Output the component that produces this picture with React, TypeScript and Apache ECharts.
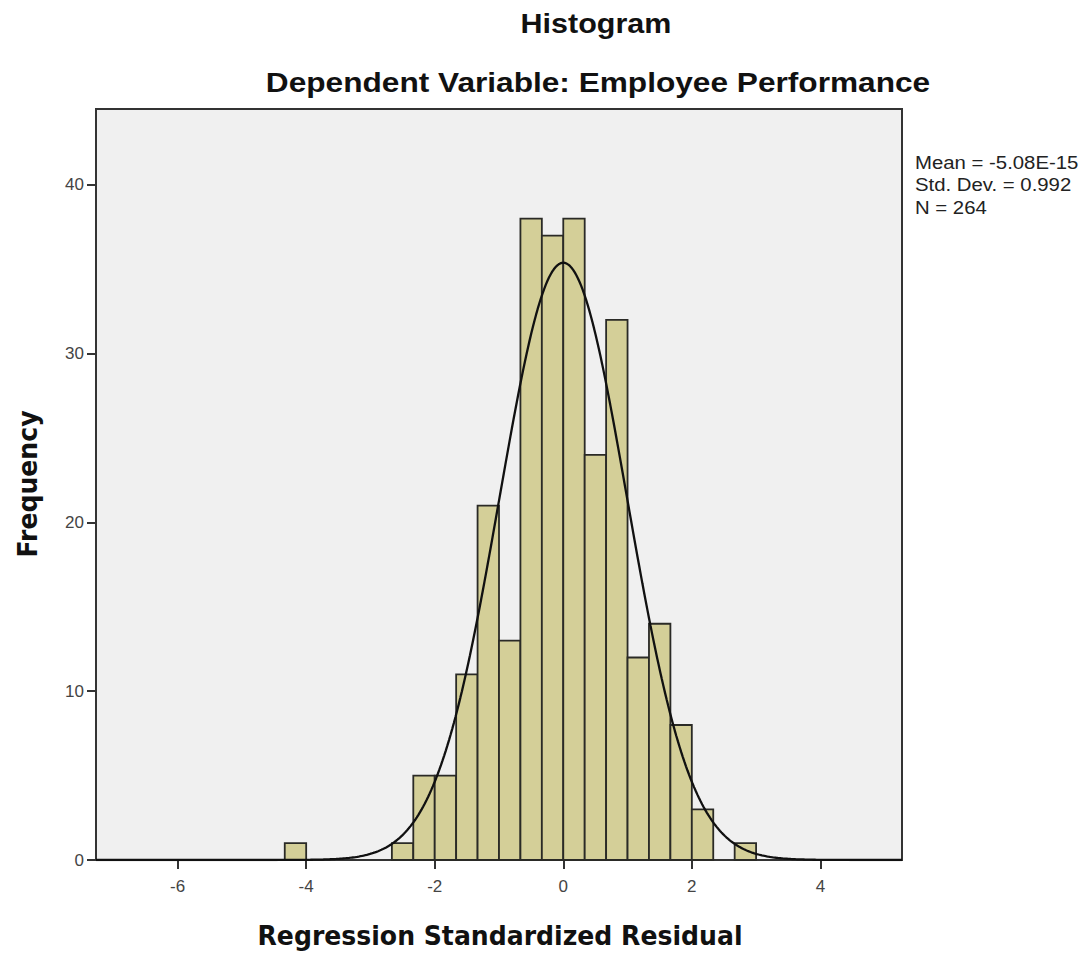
import React, { useEffect, useRef } from "react";
import * as echarts from "echarts";

// Histogram bins (lower edge of each bin, bin width = 1/3)
const binWidth = 1 / 3;
const binStarts = [-13 / 3, -8 / 3, -7 / 3, -2, -5 / 3, -4 / 3, -1, -2 / 3, -1 / 3, 0, 1 / 3, 2 / 3, 1, 4 / 3, 5 / 3, 2, 7 / 3, 8 / 3];
const counts = [1, 1, 5, 5, 11, 21, 13, 38, 37, 38, 24, 32, 12, 14, 8, 3, 0, 1];

// Summary statistics
const meanValue = -5.08e-15;
const stdDev = 0.992;
const nObs = 264;
const statsLines = ["Mean = -5.08E-15", "Std. Dev. = 0.992", "N = 264"];

const xTicks = [-6, -4, -2, 0, 2, 4];
const yTicks = [0, 10, 20, 30, 40];
const xMin = -7.27;
const xMax = 5.27;
const yMax = 44.5;

const titleText = "Histogram";
const subtitleText = "Dependent Variable: Employee Performance";
const xTitle = "Regression Standardized Residual";
const yTitle = "Frequency";

function normalCurve(): number[][] {
  const pts: number[][] = [];
  const scale = nObs * binWidth;
  for (let i = 0; i <= 500; i++) {
    const x = xMin + ((xMax - xMin) * i) / 500;
    const z = (x - meanValue) / stdDev;
    const y = (scale / (stdDev * Math.sqrt(2 * Math.PI))) * Math.exp(-0.5 * z * z);
    pts.push([x, y]);
  }
  return pts;
}

export default function App() {
  const ref = useRef<HTMLDivElement>(null);
  useEffect(() => {
    if (!ref.current) return;
    const chart = echarts.init(ref.current, null, { renderer: "svg" });
    const barData = binStarts.map((s, i) => [s, s + binWidth, counts[i]]);
    const font = "'Liberation Sans', Arial, sans-serif";
    const boldFont = "'DejaVu Sans', 'Liberation Sans', sans-serif";
    chart.setOption({
      animation: false,
      backgroundColor: "#ffffff",
      grid: {
        left: 96,
        top: 109,
        width: 806,
        height: 751,
        show: true,
        backgroundColor: "#f0f0f0",
        borderColor: "#333333",
        borderWidth: 2,
      },
      xAxis: {
        type: "value",
        min: xMin,
        max: xMax,
        splitLine: { show: false },
        axisLine: { show: true, onZero: false, lineStyle: { color: "#333333", width: 2 } },
        axisTick: { show: true, length: 9, customValues: xTicks, lineStyle: { color: "#333333", width: 2 } },
        axisLabel: { customValues: xTicks, color: "#444444", fontSize: 17, fontFamily: font, margin: 18 },
      },
      yAxis: {
        type: "value",
        min: 0,
        max: yMax,
        splitLine: { show: false },
        axisLine: { show: true, onZero: false, lineStyle: { color: "#333333", width: 2 } },
        axisTick: { show: true, length: 9, customValues: yTicks, lineStyle: { color: "#333333", width: 2 } },
        axisLabel: { customValues: yTicks, color: "#444444", fontSize: 17, fontFamily: font, margin: 12 },
      },
      series: [
        {
          type: "custom",
          data: barData,
          renderItem: (params: any, api: any) => {
            const x0 = api.value(0);
            const x1 = api.value(1);
            const c = api.value(2);
            if (c <= 0) return null;
            const p0 = api.coord([x0, c]);
            const p1 = api.coord([x1, 0]);
            return {
              type: "rect",
              shape: { x: p0[0], y: p0[1], width: p1[0] - p0[0], height: p1[1] - p0[1] },
              style: { fill: "#d4cf98", stroke: "#2a2a26", lineWidth: 1.8 },
            };
          },
          encode: { x: [0, 1], y: 2 },
          z: 2,
        },
        {
          type: "line",
          data: normalCurve(),
          showSymbol: false,
          symbol: "none",
          lineStyle: { color: "#111111", width: 2.3 },
          z: 3,
        },
      ],
      graphic: [
        {
          type: "text",
          x: 596,
          y: 24,
          scaleX: 1.13,
          style: { text: titleText, font: `bold 27px ${font}`, fill: "#111", align: "center", verticalAlign: "middle" },
        },
        {
          type: "text",
          x: 598,
          y: 82,
          scaleX: 1.13,
          style: { text: subtitleText, font: `bold 28px ${font}`, fill: "#111", align: "center", verticalAlign: "middle" },
        },
        {
          type: "text",
          x: 500,
          y: 936,
          scaleX: 0.967,
          style: { text: xTitle, font: `bold 26px ${boldFont}`, fill: "#111", align: "center", verticalAlign: "middle" },
        },
        {
          type: "text",
          x: 28,
          y: 484,
          rotation: Math.PI / 2,
          scaleX: 0.967,
          style: { text: yTitle, font: `bold 26px ${boldFont}`, fill: "#111", align: "center", verticalAlign: "middle" },
        },
        ...statsLines.map((t, i) => ({
          type: "text",
          x: 915,
          y: 162 + i * 22.5,
          scaleX: 1.1,
          style: { text: t, font: `18.5px ${font}`, fill: "#222", align: "left", verticalAlign: "middle" },
        })),
      ],
    });
    return () => chart.dispose();
  }, []);
  return <div ref={ref} style={{ position: "fixed", left: 0, top: 0, width: 1089, height: 954 }} />;
}
